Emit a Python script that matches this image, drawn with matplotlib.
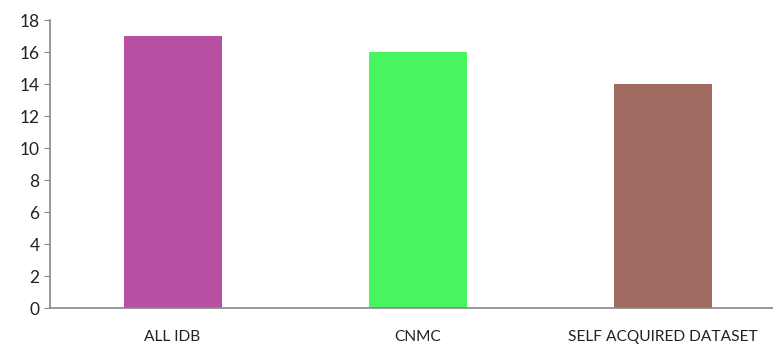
#!/usr/bin/env python3

import matplotlib
matplotlib.use('Agg')
import matplotlib.pyplot as plt

categories = ['ALL IDB', 'CNMC', 'SELF ACQUIRED DATASET']
values = [17, 16, 14]
bar_colors = ['#b84fa2', '#47f55f', '#a06a60']
y_ticks = [0, 2, 4, 6, 8, 10, 12, 14, 16, 18]

plt.rcParams['font.family'] = ['Lato', 'DejaVu Sans']

fig = plt.figure(figsize=(7.73, 3.45), dpi=100)
ax = fig.add_axes([0.0647, 0.107, 1.0 - 0.0647, 0.835])

ax.bar(range(len(categories)), values, width=0.4, color=bar_colors)

ax.set_xlim(-0.5, 2.45)
ax.set_ylim(0, 18)
ax.set_yticks(y_ticks)
ax.set_xticks(range(len(categories)))
ax.set_xticklabels(categories, fontsize=11.2, color='#222222')
ax.tick_params(axis='y', labelsize=12.5, colors='#222222', length=4, color='#888888')
ax.tick_params(axis='x', length=0, pad=16)

for side in ['top', 'right']:
  ax.spines[side].set_visible(False)
for side in ['left', 'bottom']:
  ax.spines[side].set_color('#888888')
  ax.spines[side].set_linewidth(1.2)

fig.savefig('out.png', dpi=100)
